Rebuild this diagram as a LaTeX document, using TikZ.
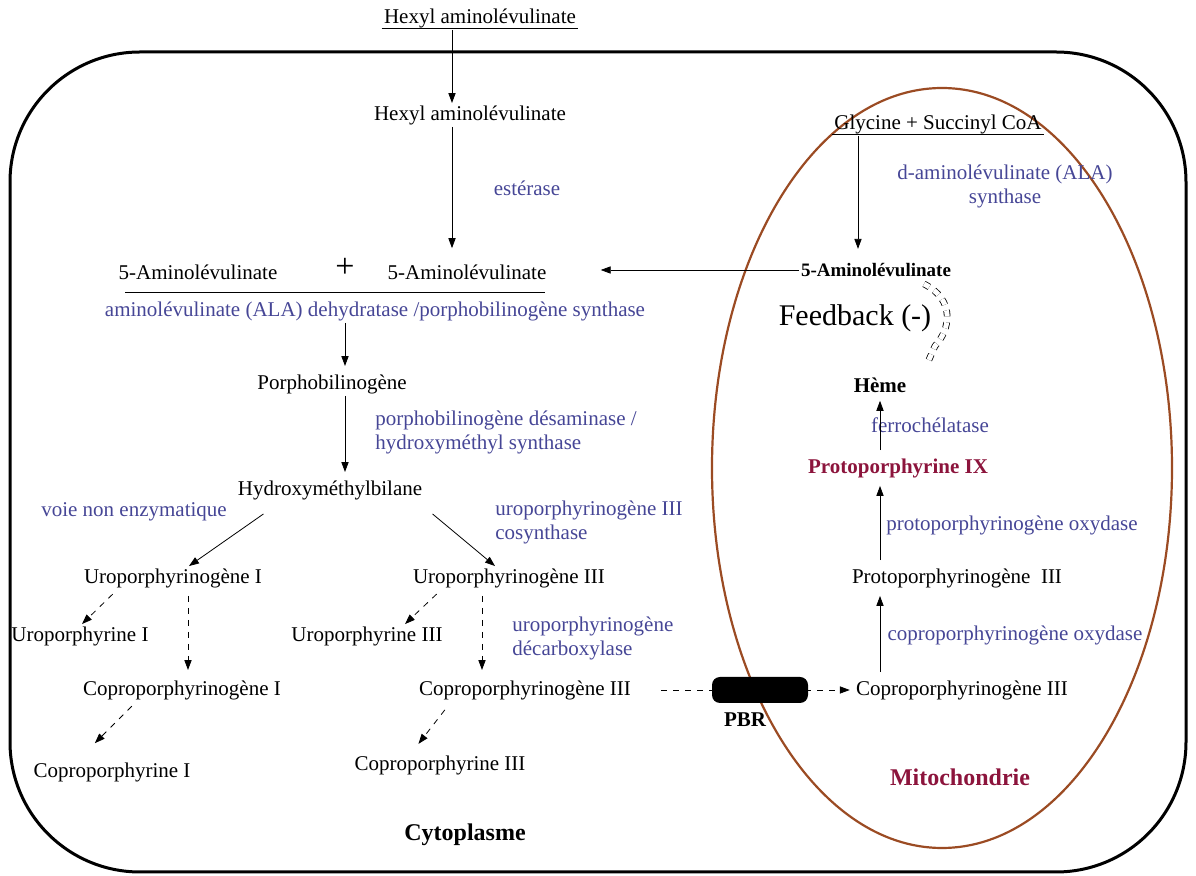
\documentclass[tikz,border=0pt]{standalone}
\usepackage{fontspec}
\setmainfont{Liberation Serif}
\usetikzlibrary{arrows.meta}
\definecolor{enzblue}{RGB}{70,70,150}
\definecolor{mitored}{RGB}{140,20,60}
\definecolor{membrown}{RGB}{155,75,35}
\tikzset{%
  mol/.style  = {inner sep=1pt, font=\fontsize{10.5}{12}\selectfont},%
  enz/.style  = {mol, text=enzblue},%
  hot/.style  = {inner sep=1pt, font=\fontsize{10.5}{12}\selectfont\bfseries},%
  big/.style  = {inner sep=1pt, font=\fontsize{12}{14}\selectfont\bfseries},%
  arr/.style  = {-{Triangle[length=5pt,width=3.6pt]}, thin},%
  darr/.style = {arr, dashed}%
}
\begin{document}
\begin{tikzpicture}[x=0.5pt, y=-0.5pt]
	\useasboundingbox (0,0) rectangle (1196,876);
	% cell and mitochondrion
	\draw[line width=1.5pt, rounded corners=65pt] (10,52) rectangle (1186,872);
	\draw[membrown, line width=1.1pt] (942,468) ellipse [x radius=115pt, y radius=190pt];
	% cytoplasm
	\node[mol] (hexout) at (480,18) {Hexyl aminolévulinate};
	\draw ([yshift=1pt]hexout.south west) -- ([yshift=1pt]hexout.south east);
	\node[mol] (hexin) at (470,115) {Hexyl aminolévulinate};
	\node[enz] (est) at (527,188) {estérase};
	\node[mol] (alaL) at (198,272) {5-Aminolévulinate};
	\node[mol, font=\fontsize{17}{17}\selectfont] (plus) at (345,268) {+};
	\node[mol] (alaR) at (467,272) {5-Aminolévulinate};
	\draw (125,292) -- (545,292);
	\node[enz] (dehyd) at (375,311) {aminolévulinate (ALA) dehydratase /porphobilinogène synthase};
	\node[mol] (pbg) at (332,384) {Porphobilinogène};
	\node[enz, anchor=west, align=left] (desam) at (373,432) {porphobilinogène désaminase /\\hydroxyméthyl synthase};
	\node[mol] (hmb) at (330,490) {Hydroxyméthylbilane};
	\node[enz] (nonenz) at (134,512) {voie non enzymatique};
	\node[enz, anchor=west, align=left] (cosyn) at (493,522) {uroporphyrinogène III\\cosynthase};
	\node[mol] (uro1) at (173,578) {Uroporphyrinogène I};
	\node[mol] (uro3) at (509,578) {Uroporphyrinogène III};
	\node[mol] (urophy1) at (80,636) {Uroporphyrine I};
	\node[mol] (urophy3) at (367,636) {Uroporphyrine III};
	\node[enz, anchor=west, align=left] (decarb) at (510,638) {uroporphyrinogène\\décarboxylase};
	\node[mol] (copgen1) at (182,690) {Coproporphyrinogène I};
	\node[mol] (copgen3) at (525,690) {Coproporphyrinogène III};
	\node[mol] (copphy1) at (112,772) {Coproporphyrine I};
	\node[mol] (copphy3) at (440,765) {Coproporphyrine III};
	\node[big] (cyto) at (465,835) {Cytoplasme};
	% mitochondrion
	\node[mol] (glysuc) at (938,124) {Glycine + Succinyl CoA};
	\draw ([yshift=1pt]glysuc.south west) -- ([yshift=1pt]glysuc.south east);
	\node[enz, align=center] (alasyn) at (1005,186) {d-aminolévulinate (ALA)\\synthase};
	\node[hot, font=\fontsize{9.5}{11}\selectfont\bfseries] (alaM) at (876,270) {5-Aminolévulinate};
	\node[mol, font=\fontsize{15}{17}\selectfont] (feedback) at (855,318) {Feedback (-)};
	\node[hot] (heme) at (880,385) {Hème};
	\node[enz] (ferro) at (930,425) {ferrochélatase};
	\node[hot, text=mitored] (protoIX) at (898,468) {Protoporphyrine IX};
	\node[enz] (protoox) at (1012,525) {protoporphyrinogène oxydase};
	\node[mol] (protogen) at (957,578) {Protoporphyrinogène~ III};
	\node[enz] (copox) at (1015,635) {coproporphyrinogène oxydase};
	\node[mol] (copgenM) at (962,690) {Coproporphyrinogène III};
	\node[big, text=mitored] (mito) at (960,777) {Mitochondrie};
	% arrows
	\draw[arr] (452,0 |- hexout.south) -- (452,0 |- hexin.north);
	\draw[arr, shorten >=7pt] (452,0 |- hexin.south) -- (452,0 |- alaR.north);
	\draw[arr, shorten >=6pt] (858,0 |- glysuc.south) -- (858,0 |- alaM.north);
	\draw[arr, shorten >=26pt] (alaM.west) -- (alaM.west -| alaR.east);
	\draw[arr, shorten >=3pt] (345,0 |- dehyd.south) -- (345,0 |- pbg.north);
	\draw[arr, shorten >=3pt] (345,0 |- pbg.south) -- (345,0 |- hmb.north);
	\draw[arr] ([xshift=14pt,yshift=-6pt]hmb.south west) -- ([xshift=8pt]uro1.north);
	\draw[arr] ([xshift=4pt,yshift=-6pt]hmb.south east) -- ([xshift=-7pt]uro1.north -| uro3.north);
	\draw[darr, shorten <=3pt] ([xshift=-28pt]uro1.south) -- ([xshift=1pt]urophy1.north);
	\draw[darr, shorten <=3pt, shorten >=4pt] (188,0 |- uro1.south) -- (188,0 |- copgen1.north);
	\draw[darr, shorten <=3pt, shorten >=2pt] ([xshift=-23pt]copgen1.south) -- ([xshift=-10pt,yshift=7pt]copphy1.north);
	\draw[darr, shorten <=3pt] ([xshift=-34pt]uro3.south) -- ([xshift=19pt]urophy3.north);
	\draw[darr, shorten <=3pt, shorten >=4pt] (482,0 |- uro3.south) -- (482,0 |- copgen3.north);
	\draw[darr, shorten <=5pt, shorten >=2pt] ([xshift=-37pt]copgen3.south) -- ([xshift=-12pt,yshift=3pt]copphy3.north);
	\draw[arr, shorten <=3pt, shorten >=3pt] (880,0 |- copgenM.north) -- (880,0 |- protogen.south);
	\draw[arr, shorten <=3pt, shorten >=3pt] (880,0 |- protogen.north) -- (880,0 |- protoIX.south);
	\draw[arr, shorten <=3pt, shorten >=3pt] (880,0 |- protoIX.north) -- (880,0 |- heme.south);
	\draw[darr, shorten <=14pt, shorten >=2pt] (copgen3.east) -- (copgenM.west);
	% PBR channel and feedback
	\node[fill=black, rounded corners=4pt, minimum width=48pt, minimum height=13pt, inner sep=0pt] (pbr) at (760,690) {};
	\node[hot] (pbrlbl) at (745,720) {PBR};
	\draw[dashed, double, double distance=2.5pt, thin] (924,284) .. controls (956,300) and (950,330) .. (935,346) -- (928,362);
\end{tikzpicture}
\end{document}
